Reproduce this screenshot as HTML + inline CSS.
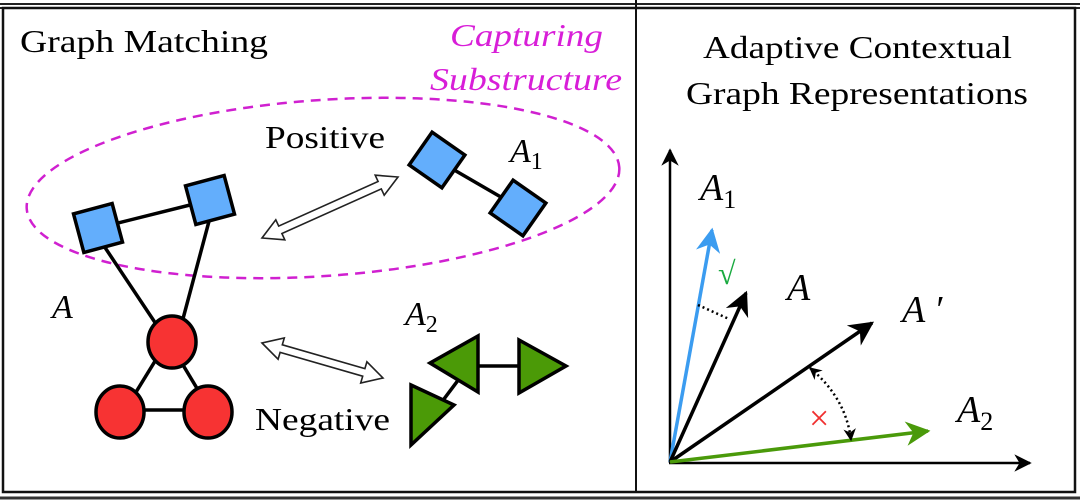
<!DOCTYPE html>
<html><head><meta charset="utf-8"><style>
html,body{margin:0;padding:0;background:#fff}
svg{display:block}
</style></head><body>
<svg width="1080" height="502" viewBox="0 0 1080 502" xmlns="http://www.w3.org/2000/svg" font-family="Liberation Serif, serif">
<defs>
<marker id="ab" viewBox="0 0 10 10" refX="9" refY="5" markerWidth="7" markerHeight="7" orient="auto-start-reverse"><path d="M0,0 L10,5 L0,10 L3,5 z" fill="#000"/></marker>
<marker id="abl" viewBox="0 0 10 10" refX="9" refY="5" markerWidth="7" markerHeight="7" orient="auto"><path d="M0,0 L10,5 L0,10 L3,5 z" fill="#3b9cf0"/></marker>
<marker id="agr" viewBox="0 0 10 10" refX="9" refY="5" markerWidth="7" markerHeight="7" orient="auto"><path d="M0,0 L10,5 L0,10 L3,5 z" fill="#4a9a0a"/></marker>
<marker id="as" viewBox="0 0 10 10" refX="9" refY="5" markerWidth="5" markerHeight="5" orient="auto-start-reverse"><path d="M0,0 L10,5 L0,10 L3,5 z" fill="#000"/></marker>
</defs>
<line x1="0" y1="4" x2="1080" y2="4" stroke="#222" stroke-width="2"/>
<line x1="0" y1="8" x2="1080" y2="8" stroke="#222" stroke-width="2"/>
<rect x="3" y="8" width="1072" height="484" fill="none" stroke="#111" stroke-width="2.5"/>
<line x1="636" y1="0" x2="636" y2="492" stroke="#111" stroke-width="2"/>
<line x1="0" y1="498" x2="1080" y2="498" stroke="#333" stroke-width="3"/>

<text x="20" y="52" font-size="32" textLength="248" lengthAdjust="spacingAndGlyphs">Graph Matching</text>
<text x="450" y="46" font-size="32" font-style="italic" fill="#d81ed8" textLength="153" lengthAdjust="spacingAndGlyphs">Capturing</text>
<text x="430" y="90" font-size="32" font-style="italic" fill="#d81ed8" textLength="192" lengthAdjust="spacingAndGlyphs">Substructure</text>

<ellipse cx="323" cy="188" rx="297" ry="88" transform="rotate(-4 323 188)" fill="none" stroke="#d020d0" stroke-width="2.5" stroke-dasharray="10 7"/>

<g stroke="#000" stroke-width="3.5">
<line x1="98" y1="228" x2="210" y2="200"/>
<line x1="100" y1="240" x2="160" y2="330"/>
<line x1="212" y1="210" x2="180" y2="330"/>
<line x1="168" y1="340" x2="125" y2="410"/>
<line x1="168" y1="340" x2="210" y2="410"/>
<line x1="125" y1="410" x2="210" y2="410"/>
<line x1="437" y1="160" x2="518" y2="207"/>
<line x1="478" y1="366" x2="520" y2="366"/>
<line x1="462" y1="375" x2="432" y2="415"/>
</g>
<g fill="#63aefc" stroke="#000" stroke-width="3.5">
<rect x="-20" y="-20" width="40" height="40" transform="translate(98 228) rotate(-15)"/>
<rect x="-20" y="-20" width="40" height="40" transform="translate(210 200) rotate(-15)"/>
<rect x="-20" y="-20" width="40" height="40" transform="translate(437 160) rotate(35)"/>
<rect x="-20" y="-20" width="40" height="40" transform="translate(518 208) rotate(35)"/>
</g>
<g fill="#f73333" stroke="#000" stroke-width="3.5">
<ellipse cx="172" cy="342" rx="24" ry="26"/>
<ellipse cx="120" cy="412" rx="24" ry="26"/>
<ellipse cx="208" cy="412" rx="24" ry="26"/>
</g>
<g fill="#4b9a07" stroke="#000" stroke-width="3.5">
<polygon points="430,363 478,336 478,392"/>
<polygon points="519,340 566,366 519,393"/>
<polygon points="411,385 454,405 411,445"/>
</g>
<g fill="#fff" stroke="#222" stroke-width="1.6" stroke-linejoin="miter">
<polygon points="262,238 284.8,239.8 281.9,233.5 381.3,188.9 384.2,195.2 398,177 375.2,175.2 378.1,181.5 278.7,226.1 275.8,219.8"/>
<polygon points="262,343 278.1,359.2 280.1,352.4 362.7,376.2 360.7,383 383,378 366.9,361.8 364.9,368.6 282.3,344.8 284.3,338"/>
</g>

<text x="265" y="148" font-size="32" textLength="120" lengthAdjust="spacingAndGlyphs">Positive</text>
<text x="255" y="430" font-size="32" textLength="135" lengthAdjust="spacingAndGlyphs">Negative</text>
<text x="510" y="162" font-size="34" font-style="italic">A<tspan font-size="24" font-style="normal" dy="7">1</tspan></text>
<text x="52" y="318" font-size="34" font-style="italic">A</text>
<text x="405" y="325" font-size="34" font-style="italic">A<tspan font-size="24" font-style="normal" dy="7">2</tspan></text>

<text x="703" y="58" font-size="32" textLength="309" lengthAdjust="spacingAndGlyphs">Adaptive Contextual</text>
<text x="686" y="104" font-size="32" textLength="342" lengthAdjust="spacingAndGlyphs">Graph Representations</text>

<line x1="670" y1="463" x2="670" y2="150" stroke="#000" stroke-width="2.5" marker-end="url(#ab)"/>
<line x1="669" y1="463" x2="1030" y2="463" stroke="#000" stroke-width="2.5" marker-end="url(#ab)"/>
<line x1="670" y1="462" x2="712" y2="230" stroke="#3b9cf0" stroke-width="3.5" marker-end="url(#abl)"/>
<line x1="670" y1="462" x2="746" y2="293" stroke="#000" stroke-width="3.5" marker-end="url(#ab)"/>
<line x1="670" y1="462" x2="872" y2="323" stroke="#000" stroke-width="3.5" marker-end="url(#ab)"/>
<line x1="670" y1="462" x2="928" y2="431" stroke="#4a9a0a" stroke-width="3.5" marker-end="url(#agr)"/>
<line x1="698" y1="305" x2="729" y2="319" stroke="#000" stroke-width="2.5" stroke-dasharray="2 3"/>
<path d="M810,368 Q846,398 851,440" fill="none" stroke="#000" stroke-width="2.5" stroke-dasharray="2 3" marker-start="url(#as)" marker-end="url(#as)"/>

<text x="700" y="200" font-size="38" font-style="italic">A<tspan font-size="26" font-style="normal" dy="8">1</tspan></text>
<text x="718" y="284" font-size="32" fill="#1aaa40">√</text>
<text x="787" y="300" font-size="38" font-style="italic">A</text>
<text x="902" y="322" font-size="38" font-style="italic">A ′</text>
<text x="957" y="422" font-size="38" font-style="italic">A<tspan font-size="26" font-style="normal" dy="8">2</tspan></text>
<text x="809" y="430" font-size="36" fill="#f03030">×</text>
</svg>
</body></html>
